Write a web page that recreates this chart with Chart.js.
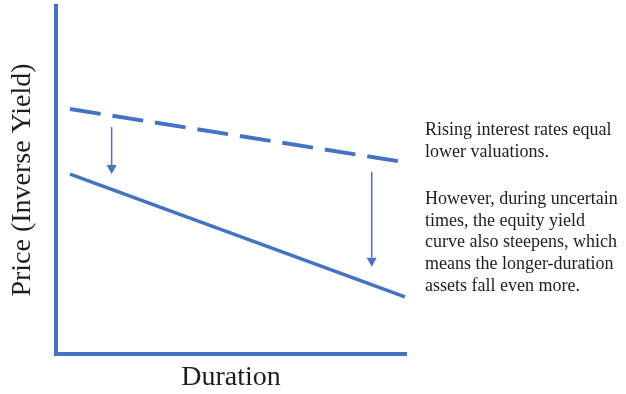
<!DOCTYPE html>
<html>
<head>
<meta charset="utf-8">
<script src="https://cdn.jsdelivr.net/npm/chart.js@4"></script>
<style>
  html, body { margin: 0; padding: 0; background: #ffffff; }
  canvas { display: block; }
</style>
</head>
<body>
<canvas id="chart" width="626" height="394"></canvas>
<script>
// Price curve before the rate rise (dashed) and after it (solid)
const beforeDuration = [4, 101];
const beforePrice = [70.4, 54.9];
const afterDuration = [4, 99.7];
const afterPrice = [51.7, 16.4];

// Downward shifts marked with arrows
const shiftDuration = [15.9, 90.2];
const shiftFrom = [65.2, 52.4];
const shiftTo = [51.7, 25.1];

// Side commentary, one entry per line ('' separates paragraphs)
const noteLines = [
  'Rising interest rates equal',
  'lower valuations.',
  '',
  'However, during uncertain',
  'times, the equity yield',
  'curve also steepens, which',
  'means the longer-duration',
  'assets fall even more.'
];

const BLUE = '#4472C4';
const SERIF = '"Liberation Serif", "Times New Roman", serif';

const toPoints = (xs, ys) => xs.map((v, i) => ({ x: v, y: ys[i] }));

const shiftArrows = {
  id: 'shiftArrows',
  afterDatasetsDraw(chart) {
    const { ctx, scales: { x, y } } = chart;
    ctx.save();
    ctx.strokeStyle = BLUE;
    ctx.fillStyle = BLUE;
    ctx.lineWidth = 1.5;
    shiftDuration.forEach((d, i) => {
      const px = x.getPixelForValue(d);
      const y0 = y.getPixelForValue(shiftFrom[i]);
      const y1 = y.getPixelForValue(shiftTo[i]);
      const head = 9, half = 5;
      ctx.beginPath();
      ctx.moveTo(px, y0);
      ctx.lineTo(px, y1 - head);
      ctx.stroke();
      ctx.beginPath();
      ctx.moveTo(px - half, y1 - head);
      ctx.lineTo(px + half, y1 - head);
      ctx.lineTo(px, y1);
      ctx.closePath();
      ctx.fill();
    });
    ctx.restore();
  }
};

const sideNote = {
  id: 'sideNote',
  afterDraw(chart) {
    const { ctx, chartArea } = chart;
    ctx.save();
    ctx.font = '18px ' + SERIF;
    ctx.fillStyle = '#1e1e1e';
    ctx.textBaseline = 'alphabetic';
    ctx.textAlign = 'left';
    const left = chartArea.right + 19;
    let baseline = 135;
    noteLines.forEach(line => {
      if (line === '') {
        baseline += 25.6;
        return;
      }
      ctx.fillText(line, left, baseline);
      baseline += 21.7;
    });
    ctx.restore();
  }
};

new Chart(document.getElementById('chart'), {
  type: 'line',
  data: {
    datasets: [
      {
        data: toPoints(beforeDuration, beforePrice),
        borderColor: BLUE,
        borderWidth: 4,
        borderDash: [31, 12],
        borderCapStyle: 'butt',
        pointRadius: 0,
        tension: 0,
        clip: false
      },
      {
        data: toPoints(afterDuration, afterPrice),
        borderColor: BLUE,
        borderWidth: 3.5,
        pointRadius: 0,
        tension: 0,
        clip: false
      }
    ]
  },
  options: {
    responsive: false,
    animation: false,
    events: [],
    layout: { padding: { top: 6, right: 220, left: 0, bottom: 0 } },
    plugins: {
      legend: { display: false },
      tooltip: { enabled: false }
    },
    scales: {
      x: {
        type: 'linear',
        min: 0,
        max: 100,
        grid: { display: true, color: 'transparent', drawTicks: false },
        border: { display: true, color: BLUE, width: 4 },
        ticks: { display: false },
        title: {
          display: true,
          text: 'Duration',
          color: '#1e1e1e',
          font: { family: SERIF, size: 28, lineHeight: 1 },
          padding: { top: 0, bottom: 2.5 }
        },
        afterFit(scale) { scale.height = 40; }
      },
      y: {
        type: 'linear',
        min: 0,
        max: 100,
        grid: { display: true, color: 'transparent', drawTicks: false },
        border: { display: true, color: BLUE, width: 4 },
        ticks: { display: false },
        title: {
          display: true,
          text: 'Price (Inverse Yield)',
          color: '#1e1e1e',
          font: { family: SERIF, size: 28, lineHeight: 1 },
          padding: { top: 8.5, bottom: 0 }
        },
        afterFit(scale) { scale.width = 56; }
      }
    }
  },
  plugins: [shiftArrows, sideNote]
});
</script>
</body>
</html>
